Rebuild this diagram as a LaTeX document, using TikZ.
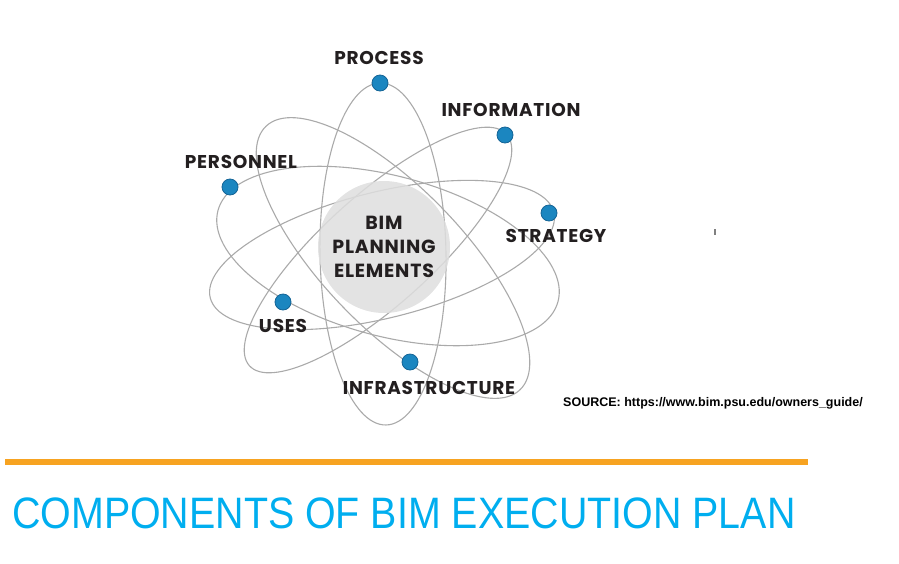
\documentclass[tikz,border=0pt]{standalone}
\usepackage{fontspec}
\usepackage{xcolor}
\usetikzlibrary{positioning}
\setmainfont{Liberation Sans}
\newfontfamily\orbitfont{Poppins}[LetterSpace=4]
\definecolor{bimBlue}{RGB}{27,134,192}
\definecolor{bimBlueDark}{RGB}{20,100,150}
\definecolor{bimOrbit}{RGB}{170,170,170}
\definecolor{bimCore}{RGB}{222,222,222}
\definecolor{bimText}{RGB}{35,31,32}
\definecolor{bimOrange}{RGB}{247,163,33}
\definecolor{bimTitle}{RGB}{0,174,239}

\begin{document}
\begin{tikzpicture}[x=1pt,y=-1pt,
    orbit/.style={bimOrbit, line width=1.1pt},
    electron/.style={circle, fill=bimBlue, draw=bimBlueDark, line width=0.8pt, minimum size=16pt, inner sep=0pt},
    elabel/.style={text=bimText, inner sep=0pt, font=\orbitfont\bfseries\fontsize{18.5}{20}\selectfont}]
    \useasboundingbox (0,0) rectangle (899,563);

    % orbits
    \draw[orbit, rotate around={91:(383,254)}] (383,254) ellipse (171 and 63);
    \draw[orbit, rotate around={42:(378,250)}] (378,250) ellipse (173 and 55);
    \draw[orbit, rotate around={-46:(393,258)}] (393,258) ellipse (183 and 70);
    \draw[orbit, rotate around={-15:(388,256)}] (388,256) ellipse (176 and 80);
    \draw[orbit, rotate around={14:(382,255)}] (382,255) ellipse (177 and 63);

    % nucleus
    \node[circle, fill=bimCore, fill opacity=0.85, text opacity=1, minimum size=132pt, inner sep=0pt,
        align=center, text=bimText, font=\orbitfont\bfseries\fontsize{19}{24}\selectfont]
        (core) at (384,247) {BIM\\PLANNING\\ELEMENTS};

    % elements
    \node[electron] (process) at (380,83) {};
    \node[electron] (information) at (505,135) {};
    \node[electron] (personnel) at (230,187) {};
    \node[electron] (strategy) at (549,213) {};
    \node[electron] (uses) at (283,302) {};
    \node[electron] (infrastructure) at (410,362) {};

    \node[elabel] (processLbl) at (379,58) {PROCESS};
    \node[elabel] (informationLbl) at (511,110) {INFORMATION};
    \node[elabel] (personnelLbl) at (241,162) {PERSONNEL};
    \node[elabel] (strategyLbl) at (556,236) {STRATEGY};
    \node[elabel] (usesLbl) at (283,326) {USES};
    \node[elabel] (infrastructureLbl) at (429,388) {INFRASTRUCTURE};

    % stray tick
    \draw[gray, line width=1.5pt] (715,229) -- (715,235);

    % source
    \node[anchor=west, inner sep=0pt, font=\bfseries\fontsize{12.5}{15}\selectfont]
        (source) at (563,403) {SOURCE: https://www.bim.psu.edu/owners\_guide/};

    % rule and title
    \coordinate (ruleL) at (5,462);
    \coordinate (ruleR) at (808,462);
    \draw[bimOrange, line width=6pt] (ruleL) -- (ruleR);
    \node[anchor=west, inner sep=0pt, text=bimTitle, font=\fontsize{44}{48}\selectfont]
        (title) at (12,513) {\scalebox{0.895}[1]{COMPONENTS OF BIM EXECUTION PLAN}};
\end{tikzpicture}
\end{document}
